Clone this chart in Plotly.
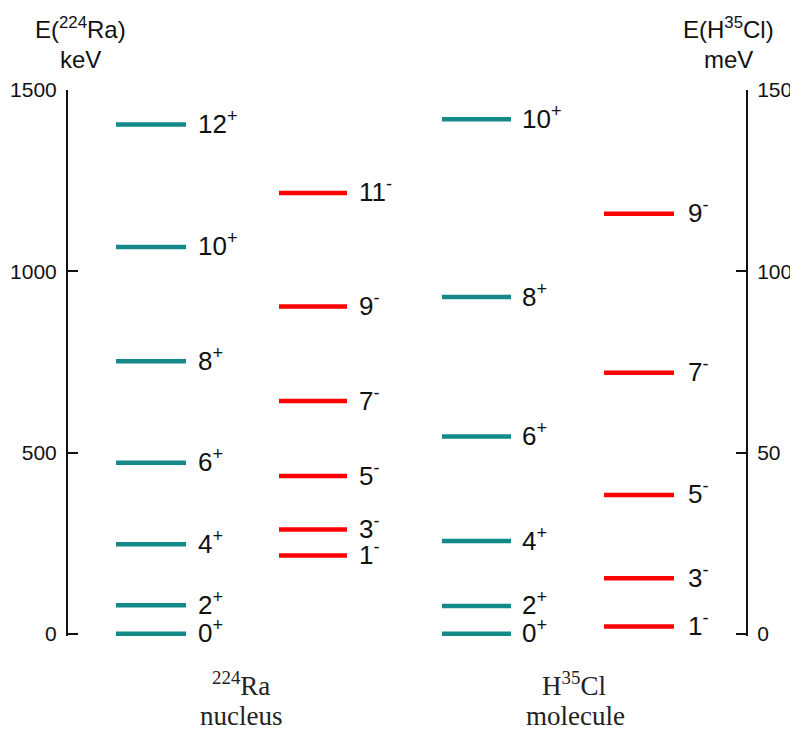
import plotly.graph_objects as go

# ---------------- data ----------------
ra_pos_spins = [0, 2, 4, 6, 8, 10, 12]
ra_pos_keV = [0, 79, 247, 472, 752, 1067, 1405]
ra_neg_spins = [1, 3, 5, 7, 9, 11]
ra_neg_keV = [216, 288, 435, 642, 903, 1216]

hcl_pos_spins = [0, 2, 4, 6, 8, 10]
hcl_pos_meV = [0, 7.7, 25.6, 54.4, 92.9, 141.9]
hcl_neg_spins = [1, 3, 5, 7, 9]
hcl_neg_meV = [2.0, 15.3, 38.3, 72.0, 115.9]

left_ticks = [0, 500, 1000, 1500]
right_ticks = [0, 50, 100, 150]

# ---------------- layout constants ----------------
OFF = 8                      # default page body margin
W, H = 798 - OFF, 735 - OFF
ML, MR, MT, MB = 68 - OFF, 52, 90 - OFF, 735 - 636
PW = W - ML - MR
PH = H - MT - MB
Y_PAD = 6                    # keV below zero so the 0 levels are not clipped
TEAL = "#14898A"
RED = "#FF0000"
LABEL_FONT = dict(family="Liberation Sans, Arial, sans-serif", size=26, color="#111")
SERIF = dict(family="Liberation Serif, Times New Roman, serif", size=27, color="#222")

# columns: (x_start, x_end, label_x) in plot pixels from the left axis
groups = [
    (ra_pos_spins, ra_pos_keV, "+", (48, 118, 128), TEAL, "y"),
    (ra_neg_spins, ra_neg_keV, "-", (211, 279, 289), RED, "y"),
    (hcl_pos_spins, hcl_pos_meV, "+", (374, 443, 452), TEAL, "y2"),
    (hcl_neg_spins, hcl_neg_meV, "-", (536, 606, 618), RED, "y2"),
]

fig = go.Figure()
annotations = []
for spins, energies, parity, (x0, x1, xl), colour, ax in groups:
    xs, ys = [], []
    for j, e in zip(spins, energies):
        xs += [x0, x1, None]
        ys += [e, e, None]
        annotations.append(dict(
            x=xl, y=e, xref="x", yref=ax, xanchor="left", yanchor="middle", yshift=2,
            text=f"{j}<sup>{parity}</sup>", showarrow=False, font=LABEL_FONT))
    fig.add_trace(go.Scatter(x=xs, y=ys, yaxis=ax, mode="lines",
                             line=dict(color=colour, width=4.5), cliponaxis=False,
                             hoverinfo="skip", showlegend=False))


def px(xp):
    # page pixel -> paper fraction
    return (xp - OFF - ML) / PW


def py(yp):
    return (H - MB - (yp - OFF)) / PH


title_font = dict(family="Liberation Sans, Arial, sans-serif", size=24, color="#111")
for text, xp, yp, font in [
    ("E(<sup>224</sup>Ra)", 80, 28, title_font),
    ("keV", 80, 60, title_font),
    ("E(H<sup>35</sup>Cl)", 728, 28, title_font),
    ("meV", 728, 60, title_font),
    ("<sup>224</sup>Ra", 241, 684, SERIF),
    ("nucleus", 241, 716, SERIF),
    ("H<sup>35</sup>Cl", 574, 684, SERIF),
    ("molecule", 575, 716, SERIF),
]:
    annotations.append(dict(x=px(xp), y=py(yp), xref="paper", yref="paper",
                            xanchor="center", yanchor="middle", text=text,
                            showarrow=False, font=font))

axis_common = dict(showgrid=False, zeroline=False, showline=True, linecolor="#111",
                   linewidth=2, ticks="inside", ticklen=10, tickwidth=2, tickcolor="#111",
                   tickfont=dict(family="Liberation Sans, Arial, sans-serif", size=21, color="#111"),
                   ticklabelstandoff=5, fixedrange=True, automargin=False)

fig.update_layout(
    width=W, height=H,
    margin=dict(l=ML, r=MR, t=MT, b=MB, pad=0),
    paper_bgcolor="white", plot_bgcolor="white",
    xaxis=dict(range=[0, PW], visible=False, fixedrange=True),
    yaxis=dict(range=[-Y_PAD, 1500], tickvals=left_ticks, side="left", **axis_common),
    yaxis2=dict(range=[-Y_PAD / 10, 150], tickvals=right_ticks, side="right", overlaying="y",
                anchor="x", **axis_common),
    annotations=annotations,
)

fig.write_html("out.html")
